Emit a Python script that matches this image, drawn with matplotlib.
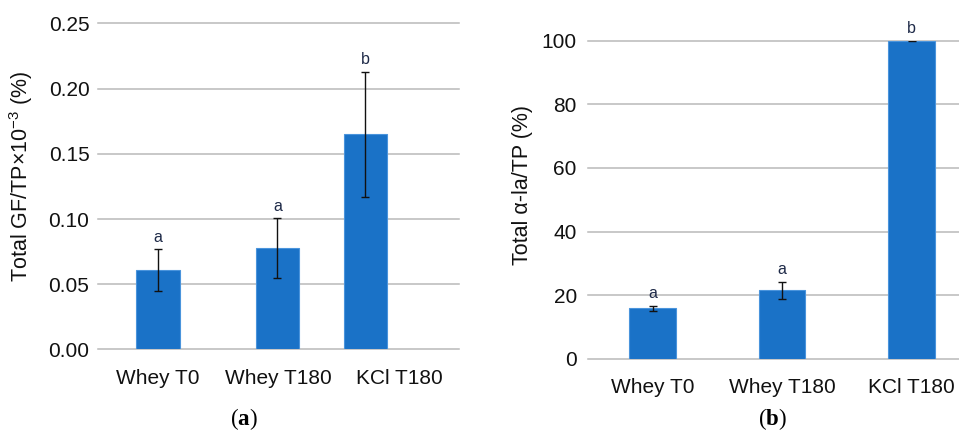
import matplotlib
matplotlib.use("Agg")
import matplotlib.pyplot as plt
import numpy as np

plt.rcParams["font.family"] = ["Liberation Sans", "DejaVu Sans"]
plt.rcParams["mathtext.fontset"] = "custom"
plt.rcParams["mathtext.rm"] = "Liberation Sans"
plt.rcParams["mathtext.bf"] = "Liberation Serif:bold"

categories = ["Whey T0", "Whey T180", "KCl T180"]

gf_values = [0.061, 0.078, 0.165]
gf_errors = [0.016, 0.023, 0.048]
gf_letters = ["a", "a", "b"]

ala_values = [16.0, 21.6, 100.0]
ala_errors = [0.8, 2.7, 0.2]
ala_letters = ["a", "a", "b"]

BAR = "#1a72c7"
EDGE = "#4a94dc"
GRID = "#b9b9b9"
LETTER = "#1e2a48"


def panel(ax, values, errors, letters, ylim, yticks, fmt, ylabel, shift, capsize,
          ypad, label_xy):
    x = np.arange(len(categories))
    xb = x + np.array(shift)
    ax.bar(xb, values, width=0.36, color=BAR, edgecolor=EDGE,
           linewidth=0.8, zorder=2)
    ax.errorbar(xb, values, yerr=errors, fmt="none", ecolor="#111111",
                elinewidth=1.0, capsize=capsize, capthick=1.0, zorder=3)
    for xi, v, e, lab in zip(xb, values, errors, letters):
        ax.annotate(lab, (xi, v + e), xytext=(0, 3), textcoords="offset points",
                    ha="center", va="bottom", fontsize=11.5, color=LETTER,
                    annotation_clip=False)
    ax.set_xlim(-0.5, len(categories) - 0.5)
    ax.set_ylim(*ylim)
    ax.set_yticks(yticks)
    ax.set_yticklabels([fmt.format(t) for t in yticks])
    ax.set_xticks(x)
    ax.set_xticklabels(categories)
    for s in ax.spines.values():
        s.set_visible(False)
    ax.grid(axis="y", color=GRID, linewidth=1.1, zorder=0)
    for gl in ax.get_ygridlines():
        gl.set_clip_on(False)
    ax.tick_params(axis="both", length=0, labelsize=15, colors="#111111")
    ax.tick_params(axis="y", pad=ypad)
    ax.tick_params(axis="x", pad=14)
    ax.set_ylabel(ylabel, fontsize=15.5, color="#111111")
    ax.yaxis.set_label_coords(*label_xy)


fig = plt.figure(figsize=(9.59, 4.32), dpi=100)
ax1 = fig.add_axes([0.102, 0.191, 0.377, 0.755])
ax2 = fig.add_axes([0.613, 0.169, 0.405, 0.737])

panel(ax1, gf_values, gf_errors, gf_letters, (0, 0.25),
      [0, 0.05, 0.10, 0.15, 0.20, 0.25], "{:.2f}",
      r"Total GF/TP×10$^{\mathrm{-3}}$ (%)", [0, -0.01, -0.28], 3,
      6, (-0.175, 0.53))
panel(ax2, ala_values, ala_errors, ala_letters, (0, 100),
      [0, 20, 40, 60, 80, 100], "{:.0f}",
      "Total α-la/TP (%)", [0, 0, 0], 2.8,
      8, (-0.142, 0.547))

fig.text(0.254, 0.016, r"($\mathbf{a}$)", fontsize=16.5, family="Liberation Serif",
         ha="center", va="baseline")
fig.text(0.806, 0.016, r"($\mathbf{b}$)", fontsize=16.5, family="Liberation Serif",
         ha="center", va="baseline")

fig.savefig("out.png", dpi=100)
